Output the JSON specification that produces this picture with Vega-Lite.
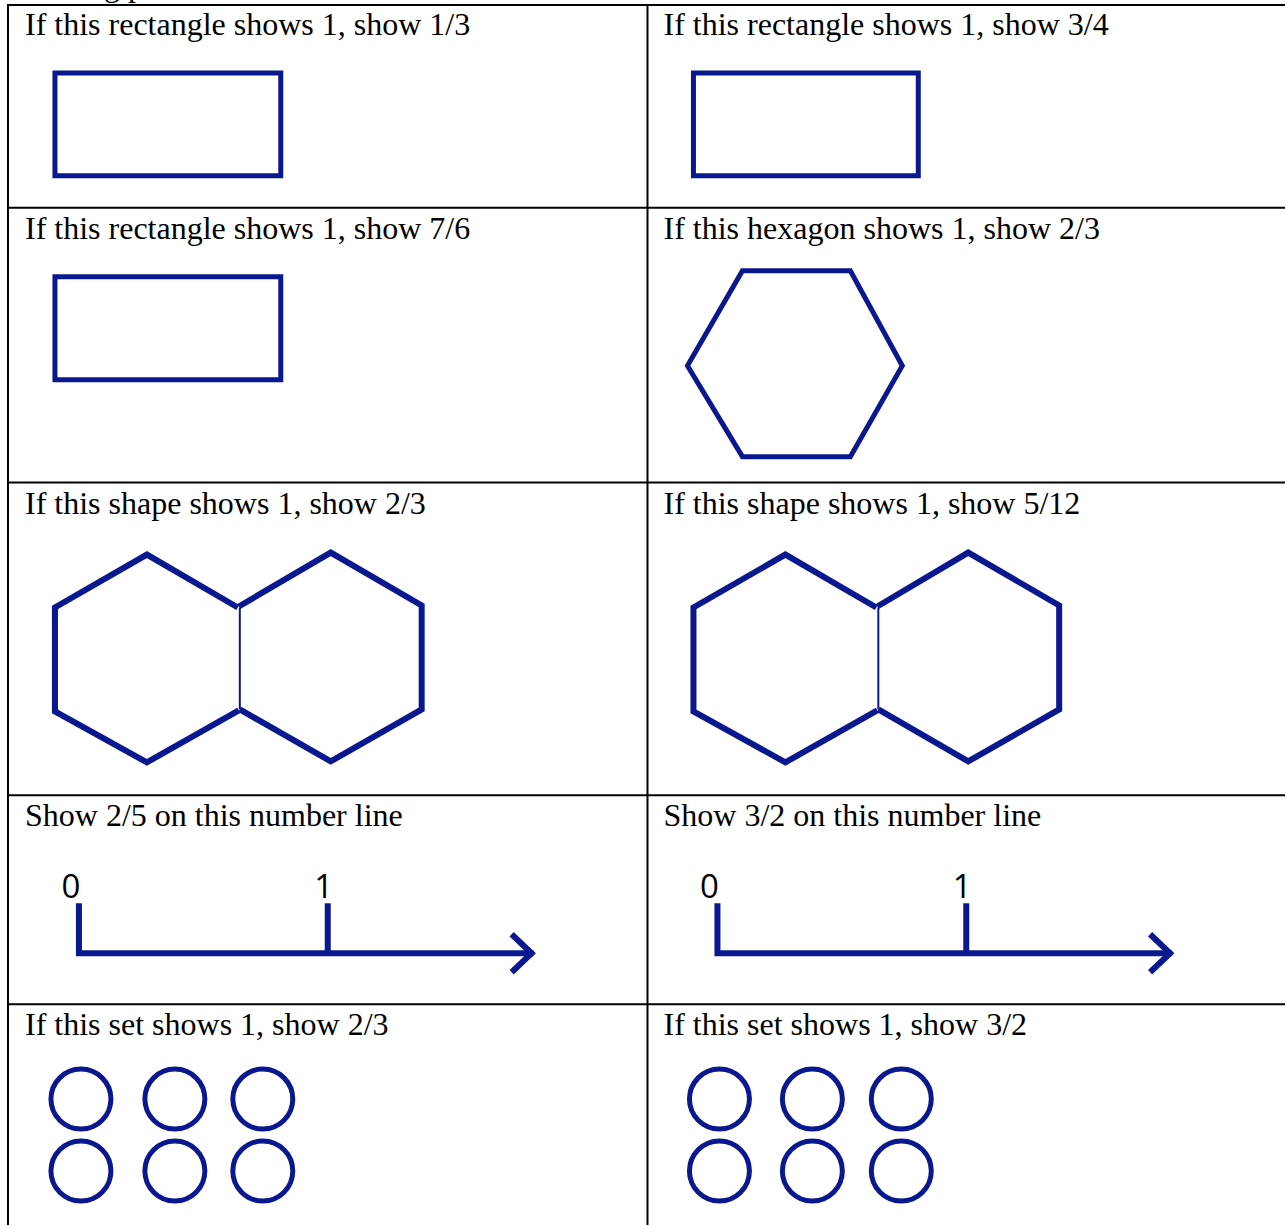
{
  "$schema": "https://vega.github.io/schema/vega-lite/v6.json",
  "width": 1286,
  "height": 1226,
  "autosize": {"type": "fit", "contains": "padding"},
  "padding": 0,
  "background": "white",
  "config": {"view": {"stroke": null}},
  "datasets": {
    "grid": [
      {"x": 8, "x2": 1286, "y": 5, "y2": 5},
      {"x": 8, "x2": 1286, "y": 208, "y2": 208},
      {"x": 8, "x2": 1286, "y": 483, "y2": 483},
      {"x": 8, "x2": 1286, "y": 796, "y2": 796},
      {"x": 8, "x2": 1286, "y": 1005, "y2": 1005},
      {"x": 8, "x2": 8, "y": 4, "y2": 1226},
      {"x": 648, "x2": 648, "y": 4, "y2": 1226}
    ],
    "rects": [
      {"id": "rect1", "o": 0, "x": 55, "y": 73},
      {"id": "rect1", "o": 1, "x": 281, "y": 73},
      {"id": "rect1", "o": 2, "x": 281, "y": 176},
      {"id": "rect1", "o": 3, "x": 55, "y": 176},
      {"id": "rect1", "o": 4, "x": 55, "y": 73},
      {"id": "rect1", "o": 5, "x": 281, "y": 73},
      {"id": "rect2", "o": 0, "x": 694, "y": 73},
      {"id": "rect2", "o": 1, "x": 919, "y": 73},
      {"id": "rect2", "o": 2, "x": 919, "y": 176},
      {"id": "rect2", "o": 3, "x": 694, "y": 176},
      {"id": "rect2", "o": 4, "x": 694, "y": 73},
      {"id": "rect2", "o": 5, "x": 919, "y": 73},
      {"id": "rect3", "o": 0, "x": 55, "y": 277},
      {"id": "rect3", "o": 1, "x": 281, "y": 277},
      {"id": "rect3", "o": 2, "x": 281, "y": 380},
      {"id": "rect3", "o": 3, "x": 55, "y": 380},
      {"id": "rect3", "o": 4, "x": 55, "y": 277},
      {"id": "rect3", "o": 5, "x": 281, "y": 277},
      {"id": "hex", "o": 0, "x": 688, "y": 366},
      {"id": "hex", "o": 1, "x": 743, "y": 271},
      {"id": "hex", "o": 2, "x": 851, "y": 271},
      {"id": "hex", "o": 3, "x": 903, "y": 366},
      {"id": "hex", "o": 4, "x": 851, "y": 457},
      {"id": "hex", "o": 5, "x": 743, "y": 457},
      {"id": "hex", "o": 6, "x": 688, "y": 366},
      {"id": "hex", "o": 7, "x": 743, "y": 271}
    ],
    "pairs": [
      {"id": "pairL_a", "o": 0, "x": 238, "y": 608},
      {"id": "pairL_a", "o": 1, "x": 147, "y": 555},
      {"id": "pairL_a", "o": 2, "x": 55, "y": 608},
      {"id": "pairL_a", "o": 3, "x": 55, "y": 712},
      {"id": "pairL_a", "o": 4, "x": 147, "y": 763},
      {"id": "pairL_a", "o": 5, "x": 239, "y": 711},
      {"id": "pairL_b", "o": 0, "x": 239, "y": 607},
      {"id": "pairL_b", "o": 1, "x": 331, "y": 553},
      {"id": "pairL_b", "o": 2, "x": 422, "y": 606},
      {"id": "pairL_b", "o": 3, "x": 422, "y": 710},
      {"id": "pairL_b", "o": 4, "x": 331, "y": 762},
      {"id": "pairL_b", "o": 5, "x": 240, "y": 710},
      {"id": "pairR_a", "o": 0, "x": 877, "y": 608},
      {"id": "pairR_a", "o": 1, "x": 786, "y": 555},
      {"id": "pairR_a", "o": 2, "x": 694, "y": 608},
      {"id": "pairR_a", "o": 3, "x": 694, "y": 712},
      {"id": "pairR_a", "o": 4, "x": 786, "y": 763},
      {"id": "pairR_a", "o": 5, "x": 878, "y": 711},
      {"id": "pairR_b", "o": 0, "x": 878, "y": 607},
      {"id": "pairR_b", "o": 1, "x": 969, "y": 553},
      {"id": "pairR_b", "o": 2, "x": 1060, "y": 606},
      {"id": "pairR_b", "o": 3, "x": 1060, "y": 710},
      {"id": "pairR_b", "o": 4, "x": 969, "y": 762},
      {"id": "pairR_b", "o": 5, "x": 879, "y": 710}
    ],
    "numline": [
      {"id": "axL", "o": 0, "x": 79, "y": 904},
      {"id": "axL", "o": 1, "x": 79, "y": 954},
      {"id": "axL", "o": 2, "x": 534, "y": 954},
      {"id": "tickL", "o": 0, "x": 328, "y": 904},
      {"id": "tickL", "o": 1, "x": 328, "y": 954},
      {"id": "arrL", "o": 0, "x": 512, "y": 935},
      {"id": "arrL", "o": 1, "x": 532, "y": 954},
      {"id": "arrL", "o": 2, "x": 512, "y": 973},
      {"id": "axR", "o": 0, "x": 718, "y": 904},
      {"id": "axR", "o": 1, "x": 718, "y": 954},
      {"id": "axR", "o": 2, "x": 1173, "y": 954},
      {"id": "tickR", "o": 0, "x": 967, "y": 904},
      {"id": "tickR", "o": 1, "x": 967, "y": 954},
      {"id": "arrR", "o": 0, "x": 1151, "y": 935},
      {"id": "arrR", "o": 1, "x": 1171, "y": 954},
      {"id": "arrR", "o": 2, "x": 1151, "y": 973}
    ],
    "thin": [
      {"x": 240, "y": 608, "y2": 710},
      {"x": 879, "y": 608, "y2": 710}
    ],
    "circles": [
      {"x": 81, "y": 1100}, {"x": 175, "y": 1100}, {"x": 263, "y": 1100},
      {"x": 81, "y": 1172}, {"x": 175, "y": 1172}, {"x": 263, "y": 1172},
      {"x": 720, "y": 1100}, {"x": 813, "y": 1100}, {"x": 902, "y": 1100},
      {"x": 720, "y": 1172}, {"x": 813, "y": 1172}, {"x": 902, "y": 1172}
    ],
    "headings": [
      {"label": "If this rectangle shows 1, show 1/3", "x": 25, "y": 35},
      {"label": "If this rectangle shows 1, show 3/4", "x": 664, "y": 35},
      {"label": "If this rectangle shows 1, show 7/6", "x": 25, "y": 239},
      {"label": "If this hexagon shows 1, show 2/3", "x": 664, "y": 239},
      {"label": "If this shape shows 1, show 2/3", "x": 25, "y": 514},
      {"label": "If this shape shows 1, show 5/12", "x": 664, "y": 514},
      {"label": "Show 2/5 on this number line", "x": 25, "y": 827},
      {"label": "Show 3/2 on this number line", "x": 664, "y": 827},
      {"label": "If this set shows 1, show 2/3", "x": 25, "y": 1036},
      {"label": "If this set shows 1, show 3/2", "x": 664, "y": 1036}
    ],
    "cut": [
      {"label": "Drawing pictures", "x": 8, "y": -4}
    ],
    "digits": [
      {"label": "0", "x": 71, "y": 899},
      {"label": "1", "x": 324, "y": 899},
      {"label": "0", "x": 710, "y": 899},
      {"label": "1", "x": 963, "y": 899}
    ]
  },
  "layer": [
    {
      "data": {"name": "grid"},
      "mark": {"type": "rule", "color": "black", "strokeWidth": 2},
      "encoding": {
        "x": {"field": "x", "type": "quantitative", "scale": {"domain": [0, 1286], "nice": false, "zero": false}, "axis": null},
        "x2": {"field": "x2"},
        "y": {"field": "y", "type": "quantitative", "scale": {"domain": [0, 1226], "nice": false, "zero": false, "reverse": true}, "axis": null},
        "y2": {"field": "y2"}
      }
    },
    {
      "data": {"name": "rects"},
      "mark": {"type": "line", "color": "#0a1890", "strokeWidth": 5, "strokeJoin": "miter", "strokeCap": "butt"},
      "encoding": {
        "x": {"field": "x", "type": "quantitative", "axis": null},
        "y": {"field": "y", "type": "quantitative", "axis": null},
        "detail": {"field": "id"},
        "order": {"field": "o", "type": "quantitative"}
      }
    },
    {
      "data": {"name": "pairs"},
      "mark": {"type": "line", "color": "#0a1890", "strokeWidth": 6, "strokeJoin": "miter", "strokeCap": "butt"},
      "encoding": {
        "x": {"field": "x", "type": "quantitative", "axis": null},
        "y": {"field": "y", "type": "quantitative", "axis": null},
        "detail": {"field": "id"},
        "order": {"field": "o", "type": "quantitative"}
      }
    },
    {
      "data": {"name": "numline"},
      "mark": {"type": "line", "color": "#0a1890", "strokeWidth": 6, "strokeJoin": "miter", "strokeCap": "butt"},
      "encoding": {
        "x": {"field": "x", "type": "quantitative", "axis": null},
        "y": {"field": "y", "type": "quantitative", "axis": null},
        "detail": {"field": "id"},
        "order": {"field": "o", "type": "quantitative"}
      }
    },
    {
      "data": {"name": "thin"},
      "mark": {"type": "rule", "color": "#0a1890", "strokeWidth": 2},
      "encoding": {
        "x": {"field": "x", "type": "quantitative", "axis": null},
        "y": {"field": "y", "type": "quantitative", "axis": null},
        "y2": {"field": "y2"}
      }
    },
    {
      "data": {"name": "circles"},
      "mark": {"type": "point", "shape": "circle", "filled": false, "size": 3600, "strokeWidth": 5, "color": "#0a1890", "opacity": 1},
      "encoding": {
        "x": {"field": "x", "type": "quantitative", "axis": null},
        "y": {"field": "y", "type": "quantitative", "axis": null}
      }
    },
    {
      "data": {"name": "headings"},
      "mark": {"type": "text", "font": "Liberation Serif", "fontSize": 32, "align": "left", "baseline": "alphabetic", "color": "black"},
      "encoding": {
        "x": {"field": "x", "type": "quantitative", "axis": null},
        "y": {"field": "y", "type": "quantitative", "axis": null},
        "text": {"field": "label"}
      }
    },
    {
      "data": {"name": "cut"},
      "mark": {"type": "text", "font": "Liberation Serif", "fontSize": 32, "align": "left", "baseline": "alphabetic", "color": "black", "clip": true},
      "encoding": {
        "x": {"field": "x", "type": "quantitative", "axis": null},
        "y": {"field": "y", "type": "quantitative", "axis": null},
        "text": {"field": "label"}
      }
    },
    {
      "data": {"name": "digits"},
      "mark": {"type": "text", "font": "Open Sans", "fontSize": 33, "align": "center", "baseline": "alphabetic", "color": "black"},
      "encoding": {
        "x": {"field": "x", "type": "quantitative", "axis": null},
        "y": {"field": "y", "type": "quantitative", "axis": null},
        "text": {"field": "label"}
      }
    }
  ]
}
